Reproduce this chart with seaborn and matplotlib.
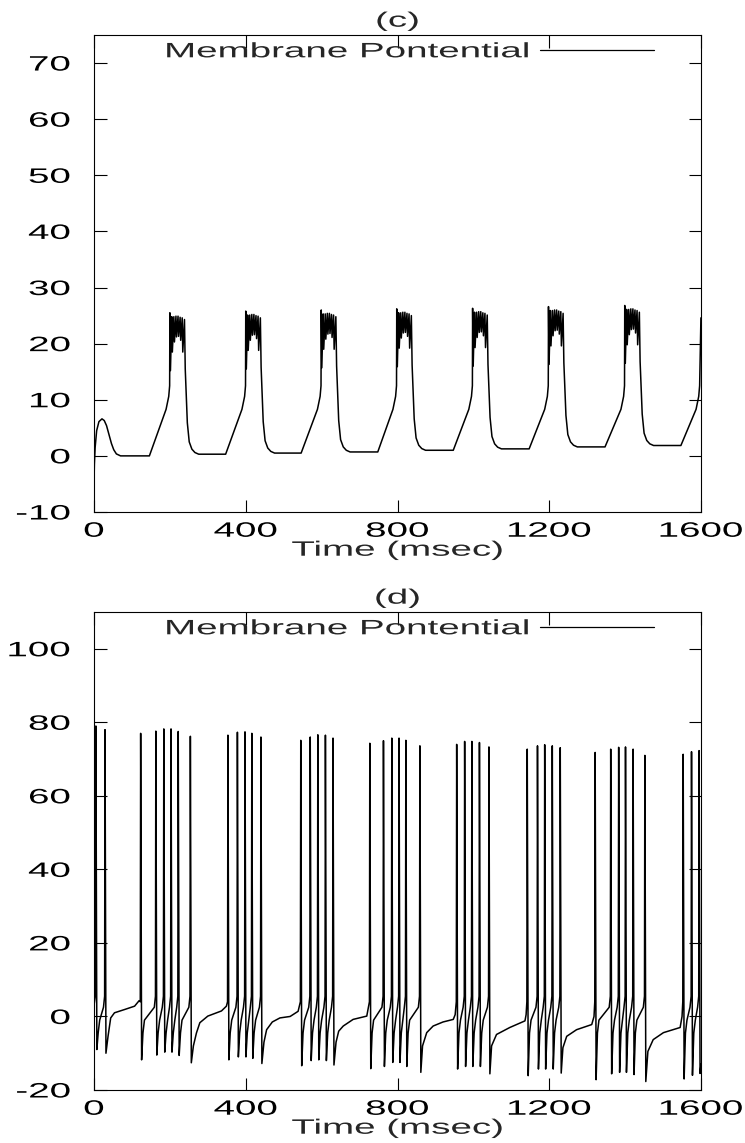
import matplotlib
matplotlib.use('Agg')
import matplotlib.pyplot as plt
import matplotlib.patheffects as pe
from matplotlib.transforms import Affine2D
import pandas as pd
import seaborn as sns

# ---- panel (c): bursting cell ----
# start-up transient (msec, mV)
c_hump_t = [0, 1, 3, 7, 13, 21, 27, 33, 40, 46, 52, 59, 70]
c_hump_v = [-5, -1.5, 1.5, 4.5, 6.1, 6.6, 6.3, 5.4, 3.7, 2.2, 1.1, 0.35, 0.0]
# one cycle per burst
c_rise_start = [146, 347, 546, 748, 947, 1147, 1347, 1547]
c_burst_start = [200, 400, 599, 798, 998, 1198, 1399, 1597]
c_plateau = [0.0, 0.3, 0.5, 0.7, 1.0, 1.25, 1.6, 1.85]
c_burst_top = [25.5, 25.8, 26.0, 26.2, 26.3, 26.6, 26.8]
# rise towards the burst (msec before onset, mV)
c_rise_dt = [-10, -3, -0.6]
c_rise_v = [8.3, 10.6, 12.5]
# spikes riding on the burst (msec after onset, mV)
c_burst_dt = [0, 1.5, 5, 6.5, 10.5, 12, 16, 17.5, 21.5, 23, 27, 28.5, 32.5, 34, 38.5, 40.5]
c_burst_v = [25.5, 15.2, 24.8, 18.5, 24.8, 20.3, 24.9, 21.2, 24.9, 21.3, 24.7, 20.6, 24.6, 18.5, 24.3, 15.5]
# fall back to the plateau (msec after onset, mV above plateau)
c_fall_dt = [46, 51, 58, 66, 76]
c_fall_v = [5.6, 2.2, 0.9, 0.3, 0.0]
c_end_v = 24.6

# ---- panel (d): spiking cell ----
d_spike_t = [5, 29,
             123, 163, 184, 203, 222, 254,
             353, 378, 398, 416, 440,
             545, 570, 590, 610, 630,
             727, 763, 785, 804, 822, 859,
             956, 977, 996, 1016, 1041,
             1142, 1169, 1188, 1208, 1229,
             1321, 1362, 1383, 1401, 1421, 1452,
             1553, 1575, 1595]
d_peak = [79, 78,
          77, 77.6, 78.2, 78.2, 77.5, 76.2,
          76.5, 77.3, 77.4, 77, 76,
          75.1, 76, 76.6, 76.5, 75.7,
          74.3, 75, 75.7, 75.7, 75.1, 73.6,
          74, 74.8, 74.8, 74.5, 73.3,
          72.7, 73.6, 73.9, 73.6, 73.1,
          71.8, 72.7, 73.2, 73.3, 72.7, 71,
          71.3, 72, 72.3]
d_trough = [-9, -10,
            -11.8, -10.5, -9.7, -9.7, -10.6, -12.6,
            -11.8, -11, -11, -11.4, -12.8,
            -13.4, -12, -11.8, -12, -13.2,
            -14.2, -13.6, -12.5, -12.5, -13.6, -15.2,
            -14.3, -13.6, -13.6, -13.6, -15.6,
            -16.1, -14.3, -14.3, -14.3, -15.4,
            -17.2, -15.6, -15.2, -15.2, -15.8, -17.7,
            -17, -16, -15.5]
d_start_t, d_start_v = [0, 4], [3, 6]
d_end_t, d_end_v = 1600, -13
# slow recovery between bursts
d_slow_t = [[37, 44, 54, 81, 107, 119],
            [262, 270, 279, 300, 336, 349],
            [448, 455, 470, 490, 517, 538],
            [638, 645, 657, 683, 719],
            [866, 877, 894, 920, 947, 952],
            [1048, 1061, 1096, 1136, 1139],
            [1236, 1246, 1272, 1312, 1318],
            [1460, 1474, 1501, 1545, 1550]]
d_slow_v = [[-5.4, -0.4, 1.0, 1.9, 2.8, 4.3],
            [-8, -4.5, -1.7, 0.1, 1.5, 2.8],
            [-7, -3.6, -1.5, -0.4, 0.0, 1.4],
            [-7, -4, -2.6, -0.8, 0.1],
            [-8, -4.4, -2.6, -1.5, -0.8, 0.5],
            [-8, -4.9, -3, -1.2, 0.5],
            [-8.5, -5.4, -3.6, -2.2, 0],
            [-9.5, -6.3, -4.4, -3, 0]]
# fast recovery inside a burst
d_fast_dt = [6, 10]
d_fast_v = [-4.5, -1.0]
d_pre_dt = [-4, -1]
d_pre_v = [2.5, 5.5]

x_ticks = [0, 400, 800, 1200, 1600]
c_yticks = list(range(-10, 71, 10))
d_yticks = list(range(-20, 101, 20))
legend_label = 'Membrane Pontential'

STRETCH = 1.85


class Stretch(pe.AbstractPathEffect):
    """Widen glyphs horizontally, like the gnuplot output."""

    def __init__(self, anchor='center', sx=STRETCH):
        super().__init__()
        self.anchor = anchor
        self.sx = sx

    def draw_path(self, renderer, gc, tpath, affine, rgbFace=None):
        box = tpath.get_extents(affine)
        x0 = {'left': box.x0, 'center': (box.x0 + box.x1) / 2, 'right': box.x1}[self.anchor]
        tr = affine + Affine2D().translate(-x0, 0).scale(self.sx, 1).translate(x0, 0)
        renderer.draw_path(gc, tpath, tr, rgbFace)


def build_c():
    t, v = list(c_hump_t), list(c_hump_v)
    for k, bs in enumerate(c_burst_start):
        t.append(c_rise_start[k])
        v.append(c_plateau[k])
        t += [bs + d for d in c_rise_dt]
        v += list(c_rise_v)
        if k < len(c_burst_top):
            shift = c_burst_top[k] - c_burst_v[0]
            t += [bs + d for d in c_burst_dt]
            v += [x + shift for x in c_burst_v]
            t += [bs + d for d in c_fall_dt]
            v += [c_plateau[k + 1] + x for x in c_fall_v]
        else:
            t.append(1599.8)
            v.append(c_end_v)
    return t, v


def build_d():
    t, v = list(d_start_t), list(d_start_v)
    gap = 0
    for i, ts in enumerate(d_spike_t):
        t += [ts, ts + 2.5]
        v += [d_peak[i], d_trough[i]]
        if i == len(d_spike_t) - 1:
            break
        nxt = d_spike_t[i + 1]
        if nxt - ts > 50:
            t += d_slow_t[gap]
            v += d_slow_v[gap]
            gap += 1
            t.append(nxt - 1)
            v.append(4.0)
        else:
            t += [ts + d for d in d_fast_dt] + [nxt + d for d in d_pre_dt]
            v += d_fast_v + d_pre_v
    t.append(d_end_t)
    v.append(d_end_v)
    return t, v


def draw_panel(ax, t, v, title, ylim, yticks):
    df = pd.DataFrame({'Time (msec)': t, 'Potential': v})
    sns.lineplot(data=df, x='Time (msec)', y='Potential', ax=ax, color='black',
                 linewidth=1.1, estimator=None, sort=False, label=legend_label)
    ax.set_xlim(0, 1600)
    ax.set_ylim(*ylim)
    ax.set_xticks(x_ticks)
    ax.set_yticks(yticks)
    ax.set_ylabel('')
    ax.set_xlabel('Time (msec)', fontsize=15, labelpad=0)
    ax.set_title(title, fontsize=15, pad=6)
    ax.tick_params(direction='in', length=9, width=0.8, top=True, right=True,
                   labelsize=15, colors='black')
    ax.tick_params(axis='x', pad=7)
    ax.tick_params(axis='y', pad=17)
    for sp in ax.spines.values():
        sp.set_linewidth(0.8)
        sp.set_color('black')

    leg = ax.legend(loc='upper right', bbox_to_anchor=(0.935, 1.0), frameon=False,
                    markerfirst=False, handlelength=5.5, handletextpad=0.45,
                    borderaxespad=0.0, borderpad=0.35, fontsize=15)
    for line in leg.get_lines():
        line.set_linewidth(0.9)
    leg.get_texts()[0].set_path_effects([Stretch('right')])

    for lab in ax.get_xticklabels():
        lab.set_path_effects([Stretch('center')])
    for lab in ax.get_yticklabels():
        lab.set_path_effects([Stretch('right')])
    ax.xaxis.label.set_path_effects([Stretch('center')])
    ax.title.set_path_effects([Stretch('center')])


sns.set_style('ticks')
plt.rcParams['font.family'] = ['Liberation Sans', 'DejaVu Sans']
plt.rcParams['axes.unicode_minus'] = False

fig = plt.figure(figsize=(7.45, 11.43), dpi=100)
W, H = 745, 1143
ax_c = fig.add_axes([94 / W, (H - 512) / H, 607 / W, 477 / H])
ax_d = fig.add_axes([94 / W, (H - 1090) / H, 607 / W, 478 / H])

tc, vc = build_c()
draw_panel(ax_c, tc, vc, '(c)', (-10, 75), c_yticks)
td, vd = build_d()
draw_panel(ax_d, td, vd, '(d)', (-20, 110), d_yticks)

fig.savefig('out.png', dpi=100)
